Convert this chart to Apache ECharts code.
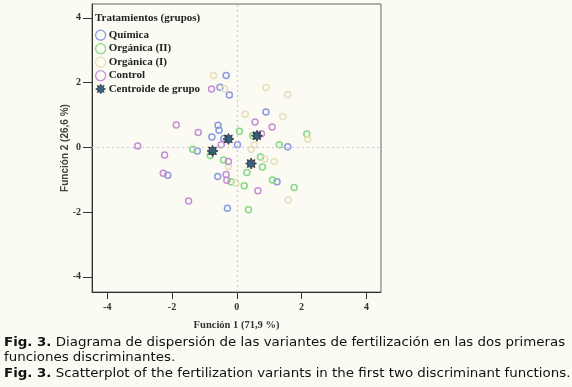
<!DOCTYPE html>
<html><head><meta charset="utf-8">
<script src="https://cdn.jsdelivr.net/npm/echarts@6/dist/echarts.min.js"></script>
<style>html,body{margin:0;padding:0;background:#fbfbf3;}#c{width:572px;height:387px;}</style>
</head><body><div id="c"></div>
<script>
// ---- data ----
const tickValues = [-4, -2, 0, 2, 4];
const groupNames = ['Química', 'Orgánica (II)', 'Orgánica (I)', 'Control', 'Centroide de grupo'];
const quimica = [[-0.33,2.22],[-0.52,1.86],[-0.23,1.62],[-0.58,0.68],[-0.55,0.53],[-0.77,0.32],[-0.40,0.27],[0.02,0.08],[-1.22,-0.11],[-2.13,-0.86],[-0.59,-0.90],[-0.29,-1.88],[0.90,1.09],[1.57,0.02],[1.24,-1.06]];
const organicaII = [[0.08,0.50],[0.49,0.36],[2.16,0.41],[1.31,0.08],[-1.36,-0.06],[-0.82,-0.25],[-0.41,-0.39],[0.73,-0.30],[0.79,-0.61],[0.31,-0.78],[-0.18,-1.06],[0.23,-1.19],[1.10,-1.01],[1.77,-1.24],[0.36,-1.93]];
const organicaI = [[-0.72,2.22],[-0.38,1.80],[0.90,1.85],[1.57,1.63],[0.26,1.02],[1.42,0.95],[2.19,0.25],[0.54,0.07],[0.44,-0.06],[0.86,-0.36],[1.15,-0.44],[-0.26,-0.59],[-0.03,-1.10],[1.59,-1.63]];
const control = [[-0.78,1.80],[-1.87,0.69],[-1.19,0.46],[0.56,0.78],[1.09,0.63],[0.76,0.42],[-0.48,0.08],[-3.06,0.04],[-2.23,-0.24],[-0.26,-0.44],[-2.27,-0.80],[-0.33,-0.84],[-0.31,-1.02],[0.65,-1.34],[-1.49,-1.66]];
const centroides = [[-0.26,0.26],[0.62,0.36],[-0.75,-0.11],[0.44,-0.50]];
const axisNameX = 'Función 1 (71,9 %)';
const axisNameY = 'Función 2 (26,6 %)';
const legendTitle = 'Tratamientos (grupos)';
const caption1 = 'Diagrama de dispersión de las variantes de fertilización en las dos primeras';
const caption2 = 'funciones discriminantes.';
const caption3 = 'Scatterplot of the fertilization variants in the first two discriminant functions.';
const figLabel = 'Fig. 3.';

// ---- styles ----
const colors = ['#8b9be2', '#86d886', '#e6dfb8', '#c58ed6'];
function starPath(n, ro, ri) {
  let s = '';
  for (let i = 0; i < 2 * n; i++) {
    const r = i % 2 === 0 ? ro : ri;
    const a = Math.PI * i / n - Math.PI / 2;
    s += (i === 0 ? 'M' : 'L') + (r * Math.cos(a)).toFixed(2) + ',' + (r * Math.sin(a)).toFixed(2);
  }
  return 'path://' + s + 'Z';
}
const starSym = starPath(8, 10, 6);
const serif = '"Liberation Serif", "DejaVu Serif", serif';
const sans = '"DejaVu Sans", Verdana, sans-serif';
const capSize = 12;
const capScale = 1.115;

const chart = echarts.init(document.getElementById('c'));
const groups = [quimica, organicaII, organicaI, control];
const series = groups.map((d, i) => ({
  name: groupNames[i], type: 'scatter', data: d, symbol: 'circle', symbolSize: 6,
  itemStyle: { color: 'rgba(0,0,0,0)', borderColor: colors[i], borderWidth: 1.5, opacity: 1 },
  emphasis: { disabled: true }, z: 3
}));
series.push({
  name: groupNames[4], type: 'scatter', data: centroides, symbol: starSym, symbolSize: 11,
  itemStyle: { color: '#0f3a5e', borderColor: '#111', borderWidth: 0.8 }, z: 5,
  emphasis: { disabled: true }
});
series.push({
  type: 'scatter', data: [], silent: true,
  markLine: { silent: true, symbol: 'none', label: { show: false },
    lineStyle: { color: '#c9cbd8', type: [2, 3], width: 1.2 },
    data: [{ xAxis: 0 }, { yAxis: 0 }] }
});

const legendData = groupNames.map((n, i) => i < 4 ? {
  name: n, icon: 'circle', itemStyle: { color: 'rgba(0,0,0,0)', borderColor: colors[i], borderWidth: 1.3 }
} : { name: n, icon: starSym, itemStyle: { color: '#0f3a5e', borderColor: '#111', borderWidth: 0.6 } });

function capText(top, txt) {
  return { type: 'text', x: 4, y: top, scaleX: capScale, silent: true,
    style: { text: txt, font: capSize + 'px ' + sans, fill: '#111',
      rich: { b: { fontWeight: 'bold', fontFamily: sans, fontSize: capSize } } } };
}

chart.setOption({
  backgroundColor: '#fbfbf3',
  animation: false,
  grid: { left: 92, right: 191, top: 4, bottom: 95, show: true, borderColor: '#666', borderWidth: 1, backgroundColor: 'transparent' },
  xAxis: {
    type: 'value', min: -4.47, max: 4.45,
    name: axisNameX, nameLocation: 'middle', nameGap: 28,
    nameTextStyle: { fontFamily: serif, fontWeight: 'bold', fontSize: 10.5, color: '#333' },
    axisLine: { show: true, onZero: false, lineStyle: { color: '#333' } },
    axisTick: { show: true, length: 7, customValues: tickValues, lineStyle: { color: '#333' } },
    axisLabel: { customValues: tickValues, margin: 10, fontFamily: serif, fontWeight: 'bold', fontSize: 10, color: '#333',
      formatter: v => String(v) },
    splitLine: { show: false }
  },
  yAxis: {
    type: 'value', min: -4.47, max: 4.43,
    name: axisNameY, nameLocation: 'middle', nameGap: 22, nameRotate: 90, nameMoveOverlap: false,
    nameTextStyle: { fontFamily: '"Liberation Sans", Arial, sans-serif', fontWeight: 'bold', fontSize: 10, color: '#444' },
    axisLine: { show: true, onZero: false, lineStyle: { color: '#333' } },
    axisTick: { show: true, length: 9, customValues: tickValues, lineStyle: { color: '#333' } },
    axisLabel: { customValues: tickValues, margin: 11, fontFamily: serif, fontWeight: 'bold', fontSize: 10, color: '#333',
      formatter: v => String(v) },
    splitLine: { show: false }
  },
  legend: {
    data: legendData, orient: 'vertical', left: 95, top: 29.5, itemWidth: 10, itemHeight: 10, itemGap: 2.2,
    textStyle: { fontFamily: serif, fontWeight: 'bold', fontSize: 11, color: '#222', padding: [0, 0, 0, -2] },
    selectedMode: false, padding: 0
  },
  graphic: [
    { type: 'text', left: 95, top: 13, silent: true,
      style: { text: legendTitle, font: 'bold 11px ' + serif, fill: '#222' } },
    capText(336.5, '{b|' + figLabel + '} ' + caption1),
    capText(352, caption2),
    capText(368, '{b|' + figLabel + '} ' + caption3)
  ],
  series: series
});
</script></body></html>
